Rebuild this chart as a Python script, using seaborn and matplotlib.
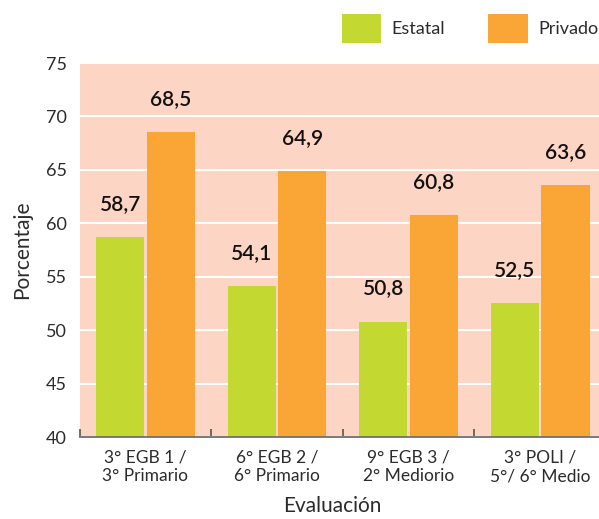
import matplotlib
matplotlib.use("Agg")
import matplotlib.pyplot as plt
import seaborn as sns
import pandas as pd
from matplotlib.ticker import FixedLocator

# Scores by evaluation and school type
evaluaciones = [
    "3° EGB 1 /\n3° Primario",
    "6° EGB 2 /\n6° Primario",
    "9° EGB 3 /\n2° Mediorio",
    "3° POLI /\n5°/ 6° Medio",
]
estatal = [58.7, 54.1, 50.8, 52.5]
privado = [68.5, 64.9, 60.8, 63.6]
tipos = ["Estatal", "Privado"]
y_ticks = [40, 45, 50, 55, 60, 65, 70, 75]

GREEN = "#C3D830"
ORANGE = "#F9A636"
BG = "#FDD5C4"
TXT = "#2b2b2b"

df = pd.DataFrame({
    "Evaluación": evaluaciones * 2,
    "Tipo": [tipos[0]] * len(estatal) + [tipos[1]] * len(privado),
    "Porcentaje": estatal + privado,
})

sns.set_theme(style="white")
plt.rcParams["font.family"] = ["Lato", "DejaVu Sans"]

fig = plt.figure(figsize=(5.99, 5.19), dpi=100)
ax = fig.add_axes([79.6 / 599, (519 - 437) / 519, 1 - 79.6 / 599, (437 - 63) / 519])
ax.set_facecolor(BG)

sns.barplot(
    data=df, x="Evaluación", y="Porcentaje", hue="Tipo",
    palette=[GREEN, ORANGE], width=0.77, gap=0.05,
    saturation=1, linewidth=0, edgecolor="none", ax=ax, zorder=3,
)

ax.set_ylim(40, 75)
ax.set_xlim(-0.5, 3.447)
ax.set_yticks(y_ticks)
ax.yaxis.grid(True, color="white", linewidth=1.5, zorder=1)
ax.set_axisbelow(True)

for s in ["top", "right", "left"]:
    ax.spines[s].set_visible(False)
ax.spines["bottom"].set_color("#707070")
ax.spines["bottom"].set_linewidth(1.3)
ax.spines["bottom"].set_zorder(5)

ax.tick_params(axis="y", length=0, pad=9, labelsize=13, labelcolor=TXT)
ax.tick_params(axis="x", which="major", length=0, pad=9, labelsize=12.5, labelcolor=TXT)
ax.xaxis.set_minor_locator(FixedLocator([-0.495, 0.5, 1.5, 2.5]))
ax.tick_params(axis="x", which="minor", bottom=True, direction="in",
               length=6, width=1.2, color="#555555")

ax.set_xlabel("Evaluación", fontsize=15, color=TXT)
ax.set_ylabel("Porcentaje", fontsize=15, color=TXT, labelpad=10)
ax.xaxis.set_label_coords(0.487, -0.158)

# Value labels above each bar
for container in ax.containers:
    for bar in container:
        v = bar.get_height()
        ax.annotate(
            f"{v:.1f}".replace(".", ","),
            xy=(bar.get_x() + bar.get_width() / 2, v),
            xytext=(0, 19.5), textcoords="offset points",
            ha="center", va="baseline", fontsize=15, fontweight="semibold",
            color="#111111",
        )

handles, labels = ax.get_legend_handles_labels()
ax.get_legend().remove()
fig.legend(
    handles, labels, loc="upper right", bbox_to_anchor=(598 / 599, 1 - 14 / 519),
    ncol=2, frameon=False, fontsize=13, handlelength=2.2, handleheight=2.1,
    handletextpad=0.55, columnspacing=2.4, borderpad=0, borderaxespad=0,
    labelcolor=TXT,
)

fig.savefig("out.png", dpi=100)
